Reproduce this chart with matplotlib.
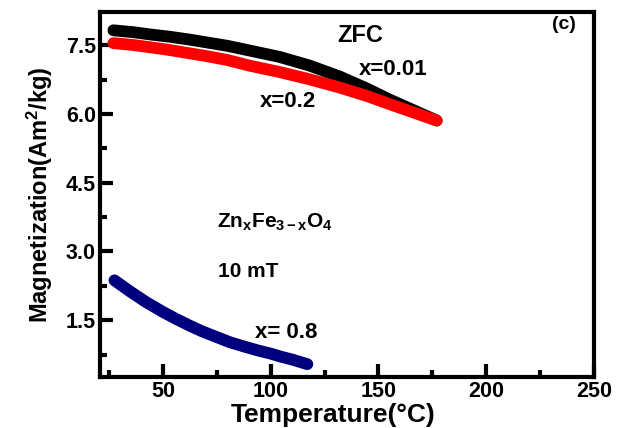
import matplotlib
matplotlib.use("Agg")
import matplotlib.pyplot as plt
from matplotlib.ticker import MultipleLocator

plt.rcParams['font.family'] = ['Liberation Sans', 'DejaVu Sans']
plt.rcParams['font.weight'] = 'bold'
plt.rcParams['mathtext.fontset'] = 'custom'
plt.rcParams['mathtext.rm'] = 'Liberation Sans:bold'
plt.rcParams['mathtext.it'] = 'Liberation Sans:bold'
plt.rcParams['mathtext.bf'] = 'Liberation Sans:bold'
plt.rcParams['mathtext.default'] = 'regular'

# Data
temp_hi = [27, 36, 44, 53, 62, 71, 80, 90, 104, 118, 132, 145, 155, 166, 177]
mag_x001 = [7.83, 7.79, 7.74, 7.69, 7.63, 7.56, 7.49, 7.39, 7.25, 7.06, 6.82, 6.55, 6.32, 6.09, 5.86]
mag_x02 = [7.55, 7.51, 7.46, 7.40, 7.33, 7.26, 7.18, 7.06, 6.92, 6.76, 6.58, 6.39, 6.22, 6.04, 5.86]
temp_lo = [27.5, 35, 42, 50, 56, 62, 68, 75, 81, 88, 94, 100, 105, 110, 117]
mag_x08 = [2.37, 2.12, 1.90, 1.68, 1.53, 1.39, 1.26, 1.13, 1.02, 0.92, 0.84, 0.77, 0.70, 0.64, 0.54]

xticks = [50, 100, 150, 200, 250]
yticks = [1.5, 3.0, 4.5, 6.0, 7.5]

fig = plt.figure(figsize=(6.31, 4.28), dpi=100)
ax = fig.add_axes([0.1585, 0.1192, 0.7829, 0.8528])

lw = 8.5
ax.plot(temp_hi, mag_x001, color='black', lw=lw, solid_capstyle='round', solid_joinstyle='round')
ax.plot(temp_hi, mag_x02, color='#ff0000', lw=lw, solid_capstyle='round', solid_joinstyle='round')
ax.plot(temp_lo, mag_x08, color='#00007f', lw=lw, solid_capstyle='round', solid_joinstyle='round')

ax.set_xlim(20.8, 250)
ax.set_ylim(0.26, 8.23)
ax.set_xticks(xticks)
ax.set_yticks(yticks)
ax.set_yticklabels(['%.1f' % v for v in yticks])
ax.xaxis.set_minor_locator(MultipleLocator(25))
ax.yaxis.set_minor_locator(MultipleLocator(0.75))

for s in ['left', 'bottom', 'right', 'top']:
    ax.spines[s].set_linewidth(3)
ax.tick_params(axis='both', which='major', direction='in', length=9.5, width=3,
               labelsize=15.5, pad=3)
ax.tick_params(axis='both', which='minor', direction='in', length=5, width=3)
for lab in ax.get_xticklabels() + ax.get_yticklabels():
    lab.set_fontweight('bold')

ax.set_xlabel('Temperature(°C)', fontsize=19, fontweight='bold')
ax.xaxis.set_label_coords(0.472, -0.071)
ax.set_ylabel('Magnetization(Am$^2$/kg)', fontsize=17, fontweight='bold', labelpad=8)

ax.text(141.4, 7.72, 'ZFC', fontsize=17, fontweight='bold', ha='center', va='center')
ax.text(236, 7.96, '(c)', fontsize=14, fontweight='bold', ha='center', va='center')
ax.text(156.8, 6.97, 'x=0.01', fontsize=16, fontweight='bold', ha='center', va='center')
ax.text(108, 6.27, 'x=0.2', fontsize=16, fontweight='bold', ha='center', va='center')
ax.text(107, 1.24, 'x= 0.8', fontsize=16, fontweight='bold', ha='center', va='center')
ax.text(75, 3.53, r'Zn$_{x}$Fe$_{3-x}$O$_{4}$', fontsize=15, fontweight='bold',
        ha='left', va='baseline')
ax.text(75.6, 2.56, '10 mT', fontsize=15, fontweight='bold', ha='left', va='center')

fig.savefig('out.png', dpi=100)
